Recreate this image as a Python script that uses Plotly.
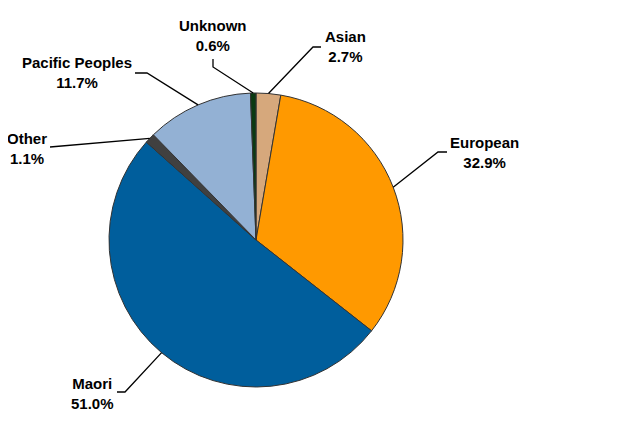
import math
import plotly.graph_objects as go

categories = ["Asian", "European", "Maori", "Other", "Pacific Peoples", "Unknown"]
values = [2.7, 32.9, 51.0, 1.1, 11.7, 0.6]
colors = ["#D6A87C", "#FF9900", "#005E9C", "#404040", "#93B1D4", "#0B3A12"]

W, H = 640, 439
OFF = 8  # page body margin offset
CX, CY, R = 256, 240, 147

# label centers (pixels, page coords) and elbow points for leader lines
label_pos = {
    "Asian": (345, 46),
    "European": (484, 152),
    "Maori": (92, 393),
    "Other": (27, 148),
    "Pacific Peoples": (77, 73),
    "Unknown": (213, 35),
}
elbows = {
    "Asian": [(313, 47), (321, 47)],
    "European": [(438, 152), (447, 152)],
    "Maori": [(125, 392), (117, 392)],
    "Other": [(50, 147)],
    "Pacific Peoples": [(147, 73), (135, 73)],
    "Unknown": [(213, 67), (213, 59)],
}

def px(x):
    return (x - OFF) / W

def py(y):
    return 1 - (y - OFF) / H

fig = go.Figure(go.Pie(
    labels=categories,
    values=values,
    sort=False,
    direction="clockwise",
    rotation=0,
    marker=dict(colors=colors, line=dict(color="#333333", width=1)),
    textinfo="none",
    hoverinfo="label+percent",
    showlegend=False,
    domain=dict(x=[px(CX - R), px(CX + R)], y=[py(CY + R), py(CY - R)]),
))

total = sum(values)
cum = 0.0
shapes = []
annotations = []
for cat, v in zip(categories, values):
    mid = (cum + v / 2) / total * 2 * math.pi
    cum += v
    ex = CX + R * math.sin(mid)
    ey = CY - R * math.cos(mid)
    pts = [(ex, ey)] + elbows[cat]
    path = "M " + " L ".join(f"{px(x):.5f},{py(y):.5f}" for x, y in pts)
    shapes.append(dict(type="path", path=path, xref="paper", yref="paper",
                       line=dict(color="#000000", width=1.3)))
    lx, ly = label_pos[cat]
    annotations.append(dict(
        text=f"<b>{cat}</b><br><b>{v:.1f}%</b>",
        x=px(lx), y=py(ly), xref="paper", yref="paper",
        xanchor="center", yanchor="middle", align="center",
        showarrow=False,
        font=dict(family="Liberation Sans, Arial, sans-serif", size=15, color="#000000"),
    ))

fig.update_layout(
    width=W, height=H,
    margin=dict(l=0, r=0, t=0, b=0),
    paper_bgcolor="#FFFFFF",
    plot_bgcolor="#FFFFFF",
    shapes=shapes,
    annotations=annotations,
)

fig.write_html("out.html")
